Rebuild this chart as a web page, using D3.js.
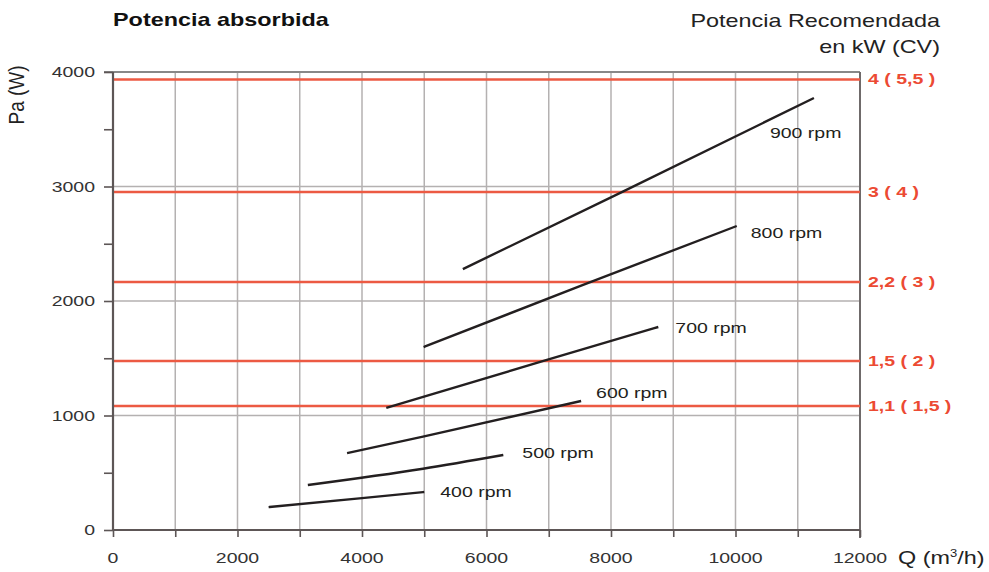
<!DOCTYPE html>
<html>
<head>
<meta charset="utf-8">
<script src="https://cdn.jsdelivr.net/npm/d3@7"></script>
<style>
  body { margin: 0; background: #fff; overflow: hidden; }
  text { font-family: "Liberation Sans", Arial, sans-serif; }
</style>
</head>
<body>
<div id="chart"></div>
<script>
// data
var rpmLabels = ["400 rpm", "500 rpm", "600 rpm", "700 rpm", "800 rpm", "900 rpm"];
var curveQ = [
  [2500, 4000, 5000],
  [3130, 4980, 6270],
  [3760, 4980, 7520],
  [4390, 6970, 8760],
  [4990, 7500, 10020],
  [5620, 8190, 11260]
];
var curvePa = [
  [200, 278, 332],
  [393, 535, 655],
  [672, 815, 1127],
  [1066, 1485, 1773],
  [1598, 2130, 2655],
  [2279, 2955, 3773]
];
var powerLabels = ["4 ( 5,5 )", "3 ( 4 )", "2,2 ( 3 )", "1,5 ( 2 )", "1,1 ( 1,5 )"];
var powerPa = [3935, 2952, 2166, 1476, 1083];
var xTicks = [0, 2000, 4000, 6000, 8000, 10000, 12000];
var yTicks = [0, 1000, 2000, 3000, 4000];

// label offsets from each curve's end (px)
var labelOffset = [[16, 0], [19, -2], [15, -8], [17, 1], [14, 7], [-44, 35]];

var margin = ({top: 72, right: 129, bottom: 42, left: 113}),
    width = 989 - margin.left - margin.right,
    height = 572 - margin.top - margin.bottom;
var sx = 1.3; // text in the picture is stretched sideways

var svg = d3.select("#chart")
  .append("svg")
    .attr("width", 989)
    .attr("height", 572)
  .append("g")
    .attr("transform", "translate(" + margin.left + "," + margin.top + ")");

var x = d3.scaleLinear().domain([0, 12000]).range([0, width]);
var y = d3.scaleLinear().domain([0, 4000]).range([height, 0]);

function stretched(sel, px, py) {
  return sel.attr("transform", "translate(" + px + "," + py + ") scale(" + sx + ",1)");
}

// grid
svg.selectAll(".vgrid")
  .data(d3.range(1000, 12000, 1000))
  .enter().append("line")
    .attr("x1", d => x(d)).attr("x2", d => x(d))
    .attr("y1", 0).attr("y2", height)
    .attr("stroke", "#b4b1b1").attr("stroke-width", 1.5);
svg.selectAll(".hgrid")
  .data([1000, 2000, 3000])
  .enter().append("line")
    .attr("x1", 0).attr("x2", width)
    .attr("y1", d => y(d)).attr("y2", d => y(d))
    .attr("stroke", "#b4b1b1").attr("stroke-width", 1.5);

// top & right border
svg.append("line").attr("x1", -9).attr("x2", width).attr("y1", 0).attr("y2", 0)
  .attr("stroke", "#888").attr("stroke-width", 2);
svg.append("line").attr("x1", width).attr("x2", width).attr("y1", 0).attr("y2", height + 8)
  .attr("stroke", "#6f6a6a").attr("stroke-width", 2);

// red power lines
svg.selectAll(".pline")
  .data(powerPa)
  .enter().append("line")
    .attr("x1", 0).attr("x2", width)
    .attr("y1", d => y(d)).attr("y2", d => y(d))
    .attr("stroke", "#ec5a43").attr("stroke-width", 2.6);

svg.selectAll(".plabel")
  .data(powerPa)
  .enter().append("text")
    .each(function(d, i) { stretched(d3.select(this), width + 8, y(d) + 5); })
    .attr("font-size", 15)
    .attr("font-weight", "bold")
    .attr("fill", "#ec4a33")
    .text((d, i) => powerLabels[i]);

// axes
var xAxis = svg.append("g")
  .attr("transform", "translate(0," + height + ")")
  .call(d3.axisBottom(x).tickValues(d3.range(0, 13000, 1000)).tickSize(7).tickFormat(""));
var yAxis = svg.append("g")
  .call(d3.axisLeft(y).tickValues(d3.range(0, 4500, 500)).tickSize(9).tickFormat(""));
[xAxis, yAxis].forEach(a => {
  a.select(".domain").attr("stroke", "#5d5656").attr("stroke-width", 2.2);
  a.selectAll(".tick line").attr("stroke", "#5d5656").attr("stroke-width", 1.6);
});
yAxis.select(".domain").attr("d", "M0," + height + "V0");
xAxis.select(".domain").attr("d", "M0,0H" + width);

svg.selectAll(".xlab")
  .data(xTicks)
  .enter().append("text")
    .each(function(d) { stretched(d3.select(this), x(d), height + 33); })
    .attr("text-anchor", "middle")
    .attr("font-size", 15)
    .attr("fill", "#333")
    .text(d => d);

svg.selectAll(".ylab")
  .data(yTicks)
  .enter().append("text")
    .each(function(d) { stretched(d3.select(this), -18, y(d) + 5); })
    .attr("text-anchor", "end")
    .attr("font-size", 15)
    .attr("fill", "#333")
    .text(d => d);

// curves
var line = d3.line()
  .x(d => x(d[0]))
  .y(d => y(d[1]))
  .curve(d3.curveMonotoneX);

rpmLabels.forEach((lab, i) => {
  var pts = curveQ[i].map((q, j) => [q, curvePa[i][j]]);
  svg.append("path")
    .datum(pts)
    .attr("d", line)
    .attr("fill", "none")
    .attr("stroke", "#231f20")
    .attr("stroke-width", 2.4);
  var last = pts[pts.length - 1];
  svg.append("text")
    .call(stretched, x(last[0]) + labelOffset[i][0], y(last[1]) + labelOffset[i][1] + 5)
    .attr("font-size", 15)
    .attr("fill", "#231f20")
    .text(lab);
});

// titles
var root = d3.select("svg");
root.append("text")
  .call(stretched, 113, 26)
  .attr("font-size", 18)
  .attr("font-weight", "bold")
  .attr("fill", "#111")
  .text("Potencia absorbida");
root.append("text")
  .call(stretched, 940, 27)
  .attr("text-anchor", "end")
  .attr("font-size", 18)
  .attr("fill", "#222")
  .text("Potencia Recomendada");
root.append("text")
  .call(stretched, 940, 53)
  .attr("text-anchor", "end")
  .attr("font-size", 18)
  .attr("fill", "#222")
  .text("en kW (CV)");

root.append("text")
  .attr("transform", "translate(24,95) scale(1.2,1) rotate(-90)")
  .attr("text-anchor", "middle")
  .attr("font-size", 19)
  .attr("fill", "#222")
  .text("Pa (W)");

var qLab = root.append("text")
  .call(stretched, 898, 564)
  .attr("font-size", 18)
  .attr("fill", "#222");
qLab.append("tspan").text("Q (m");
qLab.append("tspan").attr("font-size", 10).attr("dy", -7).text("3");
qLab.append("tspan").attr("dy", 7).text("/h)");
</script>
</body>
</html>
